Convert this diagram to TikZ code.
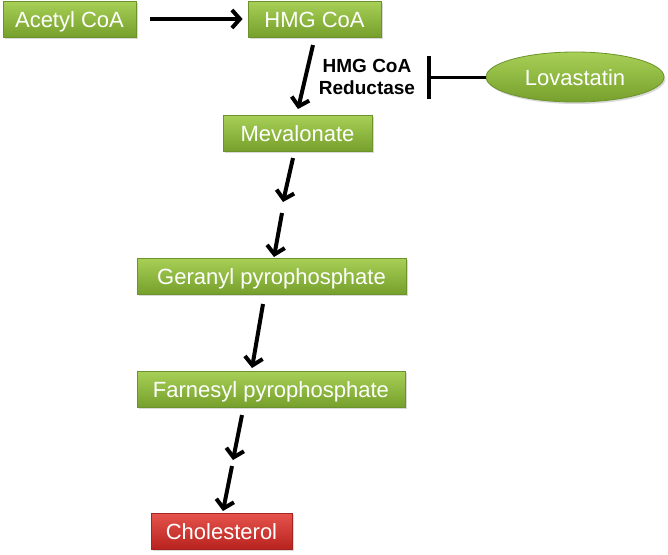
\documentclass[tikz,border=0pt]{standalone}
\usepackage{fontspec}
\setmainfont{Liberation Sans}
\usepackage{tikz}
\usetikzlibrary{arrows.meta,shapes.geometric,shadows}

\definecolor{boxtop}{HTML}{A8D057}
\definecolor{boxbot}{HTML}{76A02C}
\definecolor{boxline}{HTML}{6C922B}
\definecolor{redtop}{HTML}{E5534C}
\definecolor{redbot}{HTML}{B9231F}
\definecolor{redline}{HTML}{A32421}

\begin{document}
\begin{tikzpicture}[x=1pt,y=-1pt,>={Straight Barb[length=8pt,width=18pt]},
    mol/.style={rectangle,draw=boxline,line width=0.8pt,top color=boxtop,bottom color=boxbot,
        text=white,font=\fontsize{22}{24}\selectfont,text height=16pt,text depth=0pt,
        inner sep=0pt,minimum height=36pt,
        drop shadow={shadow xshift=1.5pt,shadow yshift=-2pt,opacity=0.3}},
    endmol/.style={mol,draw=redline,top color=redtop,bottom color=redbot},
    drug/.style={mol,ellipse,minimum height=50pt},
    conv/.style={->,line width=4pt},
    inhib/.style={-{Bar[width=43pt,line width=4pt]},line width=3pt}]
                \useasboundingbox (0,0) rectangle (668,554);

                \node   [mol,minimum width=133pt]       (acetyl)    at (69.5,19)   {Acetyl CoA};
                \node   [mol,minimum width=133pt]       (hmg)       at (314.5,19)  {HMG CoA};
                \node   [mol,minimum width=149pt]       (meva)      at (297.5,133) {Mevalonate};
                \node   [mol,minimum width=269pt]       (geranyl)   at (271.5,276) {Geranyl pyrophosphate};
                \node   [mol,minimum width=268pt]       (farnesyl)  at (271,389)   {Farnesyl pyrophosphate};
                \node   [endmol,minimum width=141pt]    (chol)      at (221.5,531) {Cholesterol};
                \node   [drug,minimum width=178pt]      (lova)      at (575,77)    {Lovastatin};
                \node   [align=center,font=\bfseries\fontsize{19}{22}\selectfont] (enzyme) at (367,77) {HMG CoA\\Reductase};

                % free ends of the slanted steps
                \coordinate (s1a) at (313,45);  \coordinate (s1b) at (298,109);
                \coordinate (s2a) at (293,158); \coordinate (s2b) at (283,202);
                \coordinate (s3a) at (282,213); \coordinate (s3b) at (274,257);
                \coordinate (s4a) at (263,304); \coordinate (s4b) at (252,368);
                \coordinate (s5a) at (242,415); \coordinate (s5b) at (233,460);
                \coordinate (s6a) at (232,466); \coordinate (s6b) at (223,511);
                \coordinate (bar) at (427,77);

                \draw   [conv,shorten <=14pt,shorten >=5pt] (acetyl.east) -- (hmg.west);
                \draw   [conv] (s1a) -- (s1b);
                \draw   [conv] (s2a) -- (s2b);
                \draw   [conv] (s3a) -- (s3b);
                \draw   [conv] (s4a) -- (s4b);
                \draw   [conv] (s5a) -- (s5b);
                \draw   [conv] (s6a) -- (s6b);
                \draw   [inhib] (lova.west) -- (bar);
            \end{tikzpicture}
\end{document}
